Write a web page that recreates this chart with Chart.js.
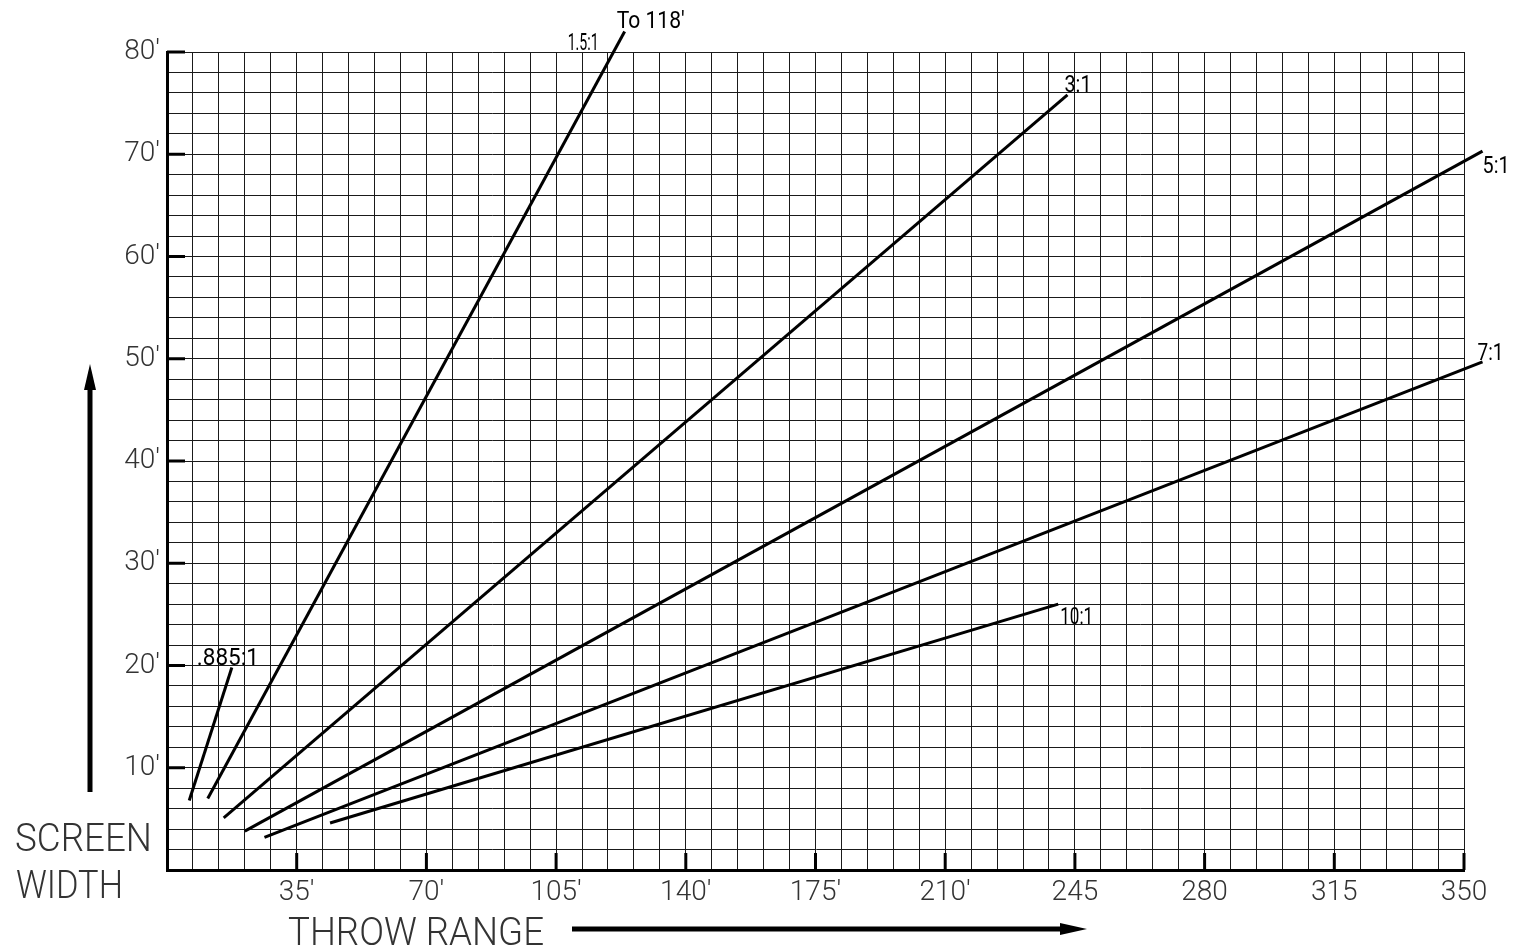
<!DOCTYPE html>
<html>
<head>
<meta charset="utf-8">
<script src="https://cdn.jsdelivr.net/npm/chart.js@4"></script>
<style>
  html, body { margin: 0; padding: 0; background: #fff; }
  #wrap { width: 1515px; height: 951px; position: relative; }
</style>
</head>
<body>
<div id="wrap"><canvas id="throwChart"></canvas></div>
<script>
// lens ratios and the start / end of each line (throw in feet, screen width in feet)
const ratios = ['.885:1', '1.5:1', '3:1', '5:1', '7:1', '10:1'];
const throwStart = [6, 11, 15.3, 21, 26.3, 44];
const widthStart = [6.8, 7, 5.1, 3.8, 3.2, 4.6];
const throwEnd = [17.5, 123.5, 243, 355, 355, 240.5];
const widthEnd = [19.8, 82, 75.8, 70.3, 49.7, 26];

// tick labels
const xTickLabels = ['35′', '70′', '105′', '140′', '175′', '210′', '245', '280', '315', '350'];
const yTickLabels = ['10′', '20′', '30′', '40′', '50′', '60′', '70′', '80′'];
const xMajor = [35, 70, 105, 140, 175, 210, 245, 280, 315, 350];
const yMajor = [10, 20, 30, 40, 50, 60, 70, 80];

// where each ratio label sits next to the end of its line (px offsets, align)
const labelPlace = [
    { dx: -4, dy: -3, align: 'center', w: 62 },
    { dx: -26, dy: 18, align: 'right', w: 31 },
    { dx: -3, dy: -3, align: 'left', w: 27 },
    { dx: 0, dy: 22, align: 'left', w: 27 },
    { dx: -5, dy: -2, align: 'left', w: 26 },
    { dx: 2, dy: 20, align: 'left', w: 33 }
];

const FONT = 'Roboto, "Liberation Sans", sans-serif';

const datasets = ratios.map((r, i) => ({
    label: r,
    data: [{ x: throwStart[i], y: widthStart[i] }, { x: throwEnd[i], y: widthEnd[i] }],
    showLine: true,
    borderColor: '#000',
    borderWidth: 3,
    pointRadius: 0,
    clip: false
}));

const decorPlugin = {
    id: 'decor',
    afterDraw(chart) {
        const ctx = chart.ctx;
        const xs = chart.scales.x, ys = chart.scales.y;
        const area = chart.chartArea;
        ctx.save();

        // major tick marks drawn inward
        ctx.strokeStyle = '#000';
        ctx.lineWidth = 3;
        xMajor.forEach(v => {
            const px = xs.getPixelForValue(v);
            ctx.beginPath();
            ctx.moveTo(px, area.bottom);
            ctx.lineTo(px, area.bottom - 17);
            ctx.stroke();
        });
        yMajor.forEach(v => {
            const py = ys.getPixelForValue(v);
            ctx.beginPath();
            ctx.moveTo(area.left, py);
            ctx.lineTo(area.left + 18, py);
            ctx.stroke();
        });

        // ratio labels
        ctx.fillStyle = '#000';
        ctx.font = '24px ' + FONT;
        ctx.textBaseline = 'alphabetic';
        ratios.forEach((r, i) => {
            const p = labelPlace[i];
            const ex = xs.getPixelForValue(throwEnd[i]);
            const ey = ys.getPixelForValue(widthEnd[i]);
            ctx.textAlign = p.align;
            ctx.fillText(r, ex + p.dx, ey + p.dy, p.w);
        });
        // note on the 1.5:1 line
        const ex1 = xs.getPixelForValue(throwEnd[1]);
        const ey1 = ys.getPixelForValue(widthEnd[1]);
        ctx.textAlign = 'left';
        ctx.font = '23px ' + FONT;
        ctx.fillText("To 118'", ex1 - 8, ey1 - 4, 68);

        // axis titles
        ctx.fillStyle = '#333';
        ctx.font = '300 38px ' + FONT;
        ctx.textAlign = 'left';
        ctx.fillText('SCREEN', 15, 851, 137);
        ctx.fillText('WIDTH', 16, 898, 107);
        ctx.fillText('THROW RANGE', 288, 945, 256);

        // arrows
        ctx.strokeStyle = '#000';
        ctx.fillStyle = '#000';
        ctx.lineWidth = 5;
        ctx.beginPath();
        ctx.moveTo(90, 792);
        ctx.lineTo(90, 385);
        ctx.stroke();
        ctx.beginPath();
        ctx.moveTo(90, 364);
        ctx.lineTo(84, 390);
        ctx.lineTo(96, 390);
        ctx.closePath();
        ctx.fill();

        ctx.beginPath();
        ctx.moveTo(572, 929);
        ctx.lineTo(1060, 929);
        ctx.stroke();
        ctx.beginPath();
        ctx.moveTo(1087, 929);
        ctx.lineTo(1060, 923);
        ctx.lineTo(1060, 935);
        ctx.closePath();
        ctx.fill();

        ctx.restore();
    }
};

new Chart(document.getElementById('throwChart'), {
    type: 'scatter',
    data: { datasets: datasets },
    options: {
        responsive: true,
        maintainAspectRatio: false,
        animation: false,
        layout: { padding: { left: 0, top: 52, right: 51, bottom: 0 } },
        plugins: {
            legend: { display: false },
            tooltip: { enabled: false }
        },
        scales: {
            x: {
                type: 'linear',
                min: 0,
                max: 350,
                afterFit(scale) { scale.height = 81; },
                border: { display: true, color: '#000', width: 3 },
                grid: { color: '#1a1a1a', lineWidth: 1, drawTicks: false },
                ticks: {
                    stepSize: 7,
                    autoSkip: false,
                    maxRotation: 0,
                    padding: 6,
                    color: '#333',
                    font: { family: FONT, size: 28, weight: '300' },
                    callback: v => {
                        const k = xMajor.indexOf(v);
                        return k >= 0 ? xTickLabels[k] : '';
                    }
                }
            },
            y: {
                type: 'linear',
                min: 0,
                max: 80,
                afterFit(scale) { scale.width = 167; },
                border: { display: true, color: '#000', width: 3 },
                grid: { color: '#1a1a1a', lineWidth: 1, drawTicks: false },
                ticks: {
                    stepSize: 2,
                    autoSkip: false,
                    padding: 7,
                    color: '#333',
                    font: { family: FONT, size: 28, weight: '300' },
                    callback: v => {
                        const k = yMajor.indexOf(v);
                        return k >= 0 ? yTickLabels[k] : '';
                    }
                }
            }
        }
    },
    plugins: [decorPlugin]
});
</script>
</body>
</html>
